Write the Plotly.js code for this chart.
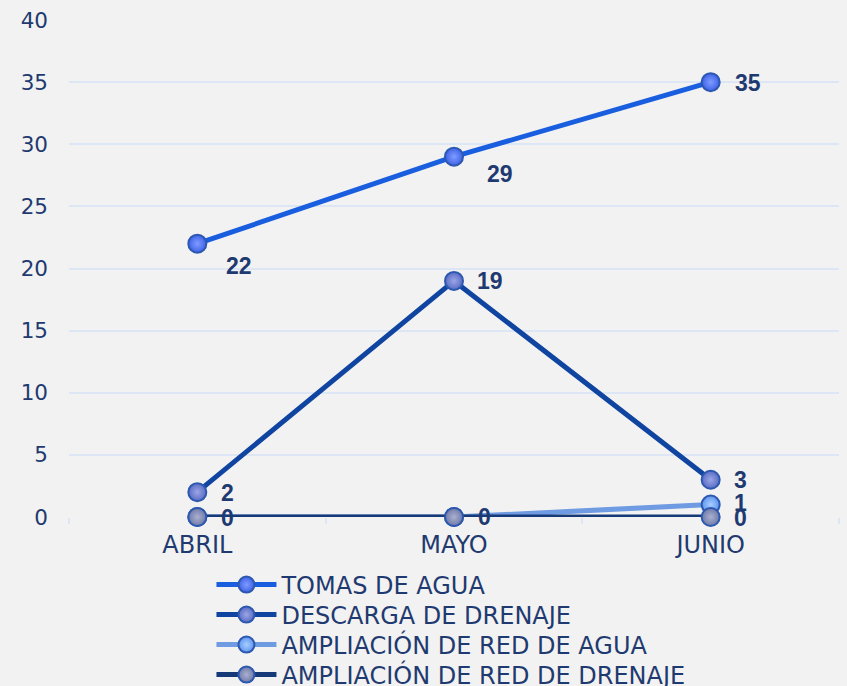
<!DOCTYPE html>
<html>
<head>
<meta charset="utf-8">
<script src="https://cdn.plot.ly/plotly-3.0.1.min.js"></script>
<style>
  html, body { margin: 0; padding: 0; background: #f2f2f2; }
  #chart { width: 847px; height: 686px; }
</style>
</head>
<body>
<div id="chart"></div>
<script>
const months = ["ABRIL", "MAYO", "JUNIO"];
const seriesNames = ["TOMAS DE AGUA", "DESCARGA DE DRENAJE", "AMPLIACIÓN DE RED DE AGUA", "AMPLIACIÓN DE RED DE DRENAJE"];
const tomasAgua = [22, 29, 35];
const descargaDrenaje = [2, 19, 3];
const ampRedAgua = [0, 0, 1];
const ampRedDrenaje = [0, 0, 0];
const yTicks = [0, 5, 10, 15, 20, 25, 30, 35, 40];

const allValues = [tomasAgua, descargaDrenaje, ampRedAgua, ampRedDrenaje];
const lineColors = ["#1a5ee0", "#0f44a0", "#6e9be1", "#163a78"];
const markerColors = ["#3f62e8", "#5a6cc4", "#5f95f0", "#6f7aa8"];
const markerCenter = ["#7f9cff", "#9aa6e6", "#a8ceff", "#aab0d0"];
// label offsets [xshift, yshift] per series per point
const labelShift = [
  [[42, -22], [46, -17], [37, -1]],
  [[30, -1], [36, 0], [30, 0]],
  [[0, 0], [0, 0], [30, 2]],
  [[30, -1], [30, 0], [30, -1]]
];
const showLabel = [
  [true, true, true],
  [true, true, true],
  [false, false, true],
  [true, true, true]
];

const textColor = "#1f3a70";
const fontFam = "Liberation Sans, Arial, sans-serif";
const tickFam = "DejaVu Sans, Liberation Sans, sans-serif";
const legendIds = ["legend", "legend2", "legend3", "legend4"];
const legendRowPx = [585, 615, 645, 675];

const traces = allValues.map((vals, i) => ({
  type: "scatter",
  mode: "lines+markers",
  name: seriesNames[i],
  legend: legendIds[i],
  x: months,
  y: vals,
  line: { color: lineColors[i], width: 5 },
  marker: {
    size: 18,
    color: markerColors[i],
    gradient: { type: "radial", color: markerCenter[i] },
    line: { color: "#2c58b0", width: 2 }
  },
  cliponaxis: false
}));

const annotations = [];
allValues.forEach((vals, i) => {
  vals.forEach((v, j) => {
    if (!showLabel[i][j]) return;
    annotations.push({
      x: months[j], y: v, xref: "x", yref: "y",
      text: "<b>" + v + "</b>", showarrow: false,
      xshift: labelShift[i][j][0], yshift: labelShift[i][j][1],
      font: { family: fontFam, size: 23, color: textColor }
    });
  });
});

const plotTop = 20, plotBottom = 517;
const layout = {
  width: 847, height: 686,
  paper_bgcolor: "#f2f2f2",
  plot_bgcolor: "#f2f2f2",
  margin: { l: 69, r: 8, t: plotTop, b: 686 - plotBottom, autoexpand: false },
  font: { family: fontFam, color: textColor, size: 22 },
  showlegend: true,
  xaxis: {
    type: "category",
    range: [-0.5, 2.5],
    showgrid: false,
    zeroline: false,
    showline: false,
    ticks: "outside",
    tickson: "boundaries",
    ticklen: 6,
    tickcolor: "#dce6f4",
    tickwidth: 2,
    ticklabelstandoff: 11,
    tickfont: { family: tickFam, size: 24, color: textColor },
    fixedrange: true
  },
  yaxis: {
    range: [0, 40],
    tickvals: yTicks,
    ticktext: yTicks.map(String),
    showgrid: true,
    gridcolor: "#dce6f4",
    gridwidth: 2,
    zeroline: false,
    showline: false,
    ticks: "",
    ticklabelstandoff: 20,
    tickfont: { family: tickFam, size: 21.5, color: textColor },
    fixedrange: true
  },
  annotations: annotations
};
legendIds.forEach((id, i) => {
  layout[id] = {
    orientation: "v",
    x: 0.185, xanchor: "left",
    y: (plotBottom - legendRowPx[i]) / (plotBottom - plotTop), yanchor: "middle",
    bgcolor: "rgba(0,0,0,0)",
    font: { family: tickFam, size: 24, color: textColor },
    itemwidth: 60
  };
});

Plotly.newPlot("chart", traces, layout, { displayModeBar: false, staticPlot: true });
</script>
</body>
</html>
